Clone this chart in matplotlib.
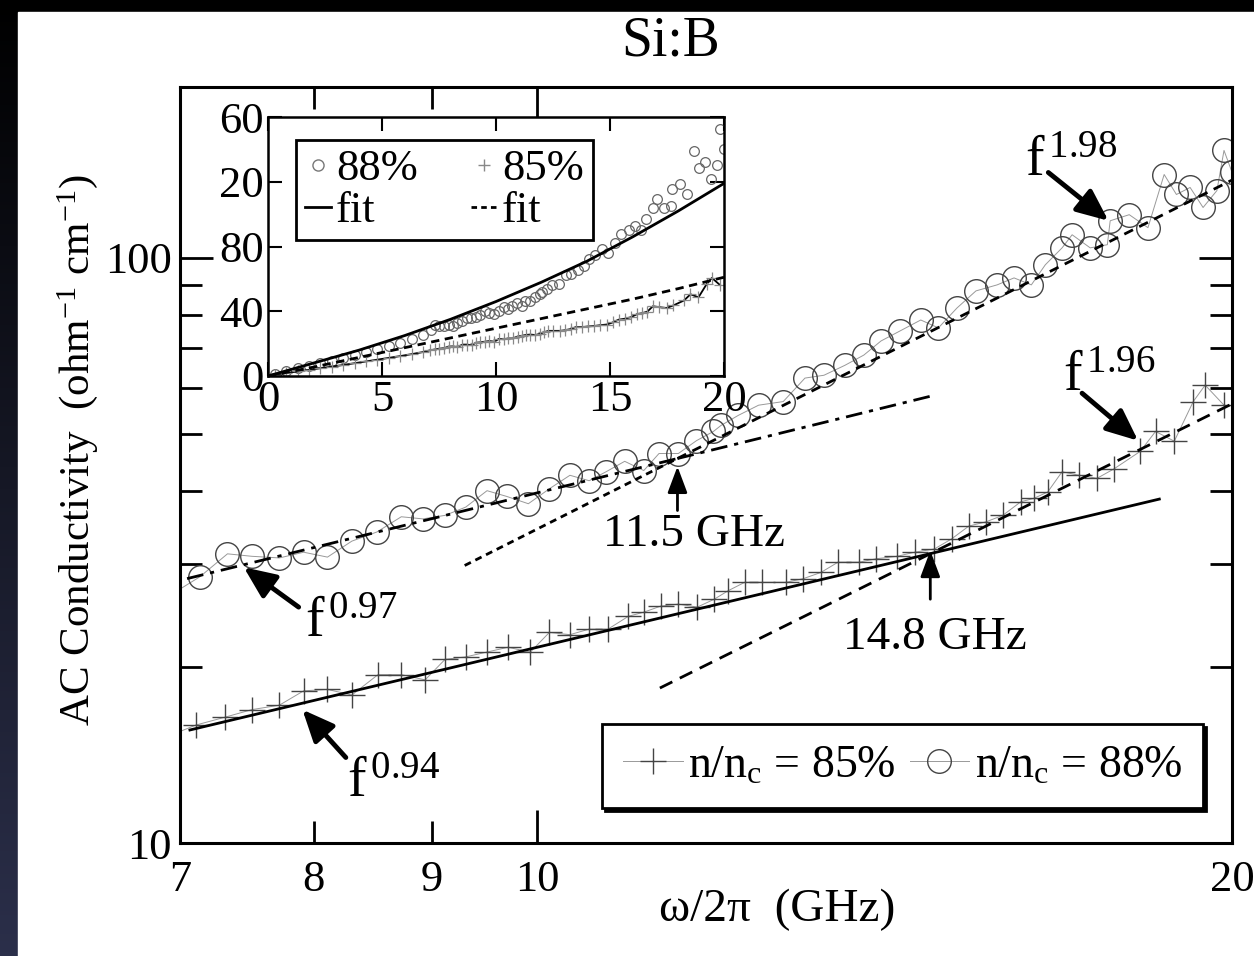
import numpy as np
import matplotlib
matplotlib.use("Agg")
import matplotlib.pyplot as plt
from matplotlib.patches import Rectangle
from matplotlib.lines import Line2D
from matplotlib.colors import LinearSegmentedColormap
from matplotlib.ticker import FixedLocator, FixedFormatter, NullFormatter

plt.rcParams['font.family'] = ['Liberation Serif', 'DejaVu Serif']
plt.rcParams['mathtext.fontset'] = 'custom'
plt.rcParams['mathtext.rm'] = 'Liberation Serif'
plt.rcParams['mathtext.it'] = 'Liberation Serif:italic'

# n/nc = 88 %  (GHz, ohm^-1 cm^-1)
freq_88 = [7.14, 7.34, 7.52, 7.73, 7.92, 8.11, 8.31, 8.52, 8.73, 8.92,
           9.12, 9.31, 9.51, 9.70, 9.91, 10.12, 10.33, 10.53, 10.71, 10.91,
           11.12, 11.29, 11.51, 11.72, 11.92, 12.01, 12.22, 12.47, 12.78, 13.06,
           13.31, 13.59, 13.85, 14.09, 14.36, 14.66, 14.92, 15.20, 15.49, 15.82,
           16.09, 16.37, 16.60, 16.88, 17.05, 17.36, 17.66, 17.71, 18.05, 18.39,
           18.69, 18.92, 19.18, 19.43, 19.70, 19.84, 20.0]
sigma_88 = [28.5, 31.2, 30.9, 30.7, 31.4, 30.8, 32.8, 34.0, 36.1, 35.8,
            36.3, 37.5, 40.0, 39.1, 38.0, 40.3, 42.5, 41.6, 43.1, 44.9,
            43.3, 46.3, 46.3, 48.7, 50.5, 51.7, 53.8, 56.0, 56.8, 62.3,
            63.0, 65.5, 68.2, 72.1, 75.0, 78.3, 75.9, 82.1, 87.8, 89.9,
            92.4, 89.9, 97.3, 104.0, 109.5, 104.0, 105.3, 115.7, 118.5, 112.6,
            138.8, 128.3, 131.9, 121.9, 130.3, 152.6, 140.0]

# n/nc = 85 %
freq_85 = [7.11, 7.32, 7.52, 7.73, 7.92, 8.11, 8.31, 8.53, 8.73, 8.94,
           9.12, 9.31, 9.51, 9.71, 9.93, 10.12, 10.33, 10.53, 10.73, 10.95,
           11.12, 11.31, 11.51, 11.73, 11.93, 12.10, 12.30, 12.51, 12.82, 13.04,
           13.27, 13.50, 13.79, 14.02, 14.32, 14.57, 14.86, 15.12, 15.38, 15.65,
           15.91, 16.20, 16.41, 16.64, 16.88, 17.17, 17.48, 17.78, 18.25, 18.53,
           18.88, 19.24, 19.47, 19.84]
sigma_85 = [15.9, 16.4, 16.9, 17.2, 18.2, 18.3, 17.9, 19.4, 19.4, 19.0,
            20.6, 20.8, 21.2, 21.6, 21.2, 22.9, 22.7, 23.2, 23.2, 24.4,
            24.8, 25.4, 25.6, 25.3, 26.1, 27.0, 27.9, 27.9, 27.9, 28.3,
            29.0, 30.2, 30.2, 30.6, 30.9, 31.4, 31.8, 33.1, 34.8, 35.4,
            36.3, 38.3, 38.8, 39.8, 43.1, 42.5, 42.0, 43.6, 46.7, 50.5,
            48.6, 56.8, 60.6, 56.0]

# low frequency part, only seen in the inset
freq_lo = [0.3, 0.8, 1.3, 1.8, 2.3, 2.8, 3.3, 3.8, 4.3, 4.8, 5.3, 5.8, 6.3, 6.8]
sigma_88_lo = [1.5, 3.1, 4.7, 6.3, 7.9, 9.5, 11.1, 12.8, 14.6, 16.5, 18.5, 20.6, 22.8, 25.3]
sigma_85_lo = [0.8, 1.8, 2.8, 3.8, 4.8, 5.8, 6.8, 7.9, 9.0, 10.1, 11.2, 12.3, 13.5, 14.8]

# power law fits (end points)
fit88_low_f, fit88_low_s = [7.05, 11.5], [28.3, 45.4]      # f^0.97
fit88_ext_f, fit88_ext_s = [11.5, 14.8], [45.4, 58.0]
fit88_high_f, fit88_high_s = [11.5, 20.0], [45.4, 135.8]   # f^1.98
fit88_hext_f, fit88_hext_s = [9.3, 11.5], [29.8, 45.4]
fit85_low_f, fit85_low_s = [7.07, 18.6], [15.6, 38.7]      # f^0.94
fit85_high_f, fit85_high_s = [11.3, 20.0], [18.4, 56.3]    # f^1.96

# inset fits
inset_fit_f = [0, 2, 4, 6, 8, 10, 12, 14, 16, 18, 20]
inset_fit_88 = [0, 8, 16, 25, 35, 46, 58, 71, 86, 102, 119]
inset_fit_85 = [0, 5.5, 11.5, 17.5, 23.5, 29.5, 35.5, 41.5, 47.5, 54, 61]

fig = plt.figure(figsize=(12.54, 9.56), dpi=100)

# slide background: dark edge, white page
bg = fig.add_axes([0, 0, 1, 1], zorder=-10)
bg.set_axis_off()
grad = np.linspace(0, 1, 256)[:, None]
bg.imshow(grad, cmap=LinearSegmentedColormap.from_list('edge', ['#000000', '#2b2f4a']),
          aspect='auto', extent=[0, 1, 0, 1])
bg.add_patch(Rectangle((18 / 1254, 0), 1, 1 - 12 / 956, color='white'))
bg.set_xlim(0, 1)
bg.set_ylim(0, 1)

ax = fig.add_axes([0.1435, 0.1182, 0.839, 0.791])
ax.set_xscale('log')
ax.set_yscale('log')

l85, = ax.plot(freq_lo + freq_85, sigma_85_lo + sigma_85, color='#999999', lw=0.7,
               marker='+', ms=19, mew=1.0, mec='#444444')
l88, = ax.plot(freq_lo + freq_88, sigma_88_lo + sigma_88, color='#999999', lw=0.7,
               marker='o', ms=17, mfc='none', mec='#444444', mew=1.0)

ax.plot(fit88_low_f, fit88_low_s, color='k', lw=2, dashes=(6, 2.5, 1.5, 2.5))
ax.plot(fit88_ext_f, fit88_ext_s, color='k', lw=2, dashes=(6, 2.5, 1.5, 2.5))
ax.plot(fit88_high_f, fit88_high_s, color='k', lw=2, dashes=(3.5, 2.5))
ax.plot(fit88_hext_f, fit88_hext_s, color='k', lw=2, dashes=(2.5, 1.8))
ax.plot(fit85_low_f, fit85_low_s, color='k', lw=2)
ax.plot(fit85_high_f, fit85_high_s, color='k', lw=2, dashes=(5, 3))

ax.set_xlim(7, 20)
ax.set_ylim(10, 196)

ax.xaxis.set_major_locator(FixedLocator([10, 20]))
ax.xaxis.set_major_formatter(FixedFormatter(['10', '20']))
ax.xaxis.set_minor_locator(FixedLocator([7, 8, 9]))
ax.xaxis.set_minor_formatter(FixedFormatter(['7', '8', '9']))
ax.yaxis.set_major_locator(FixedLocator([10, 100]))
ax.yaxis.set_major_formatter(FixedFormatter(['10', '100']))
ax.yaxis.set_minor_locator(FixedLocator([20, 30, 40, 50, 60, 70, 80, 90]))
ax.yaxis.set_minor_formatter(NullFormatter())
ax.tick_params(which='both', direction='in', top=True, right=True, labelsize=32, width=2)
ax.tick_params(which='major', length=24)
ax.tick_params(which='minor', length=16)
ax.tick_params(axis='x', which='both', pad=12)
ax.tick_params(axis='y', which='both', pad=6)
for s in ax.spines.values():
    s.set_linewidth(2.2)

ax.set_xlabel('ω/2π  (GHz)', fontsize=34)
ax.xaxis.set_label_coords(0.568, -0.06)
ax.set_ylabel('AC Conductivity  (ohm$^{-1}$ cm$^{-1}$)', fontsize=31)
ax.yaxis.set_label_coords(-0.076, 0.52)

fig.text(671 / 1254, 1 - 42 / 956, 'Si:B', ha='center', va='center', fontsize=40)

big = dict(arrowstyle='-|>,head_length=0.8,head_width=0.35', lw=3.5, color='k',
           shrinkA=0, shrinkB=0, mutation_scale=24)
small = dict(arrowstyle='-|>,head_length=0.8,head_width=0.3', lw=2, color='k',
             shrinkA=0, shrinkB=0, mutation_scale=20)

ax.annotate('', xy=(7.46, 29.6), xytext=(7.88, 25.3), arrowprops=big)
ax.text(7.93, 22.5, 'f$^{\\,\\mathrm{0.97}}$', fontsize=40, ha='left', va='baseline')
ax.annotate('', xy=(7.91, 16.9), xytext=(8.26, 14.0), arrowprops=big)
ax.text(8.27, 12.0, 'f$^{\\,\\mathrm{0.94}}$', fontsize=40, ha='left', va='baseline')
ax.annotate('', xy=(17.68, 115.7), xytext=(16.65, 139.9), arrowprops=big)
ax.text(16.27, 138.2, 'f$^{\\,\\mathrm{1.98}}$', fontsize=40, ha='left', va='baseline')
ax.annotate('', xy=(18.21, 48.7), xytext=(17.22, 58.7), arrowprops=big)
ax.text(16.9, 59.2, 'f$^{\\,\\mathrm{1.96}}$', fontsize=40, ha='left', va='baseline')

ax.annotate('', xy=(11.5, 44.0), xytext=(11.5, 37.0), arrowprops=small)
ax.text(11.69, 36.5, '11.5 GHz', fontsize=34, ha='center', va='top')
ax.annotate('', xy=(14.8, 31.6), xytext=(14.8, 26.1), arrowprops=small)
ax.text(14.87, 24.4, '14.8 GHz', fontsize=34, ha='center', va='top')

leg = ax.legend([l85, l88], ['n/n$_{\\mathrm{c}}$ = 85%', 'n/n$_{\\mathrm{c}}$ = 88%'],
                ncol=2, loc='lower right', bbox_to_anchor=(0.9724, 0.0464), borderaxespad=0,
                fontsize=33, handlelength=1.3, handletextpad=0.12, columnspacing=0.3,
                borderpad=0.45, fancybox=False, edgecolor='k', framealpha=1,
                shadow={'color': 'k', 'alpha': 1})
leg.get_frame().set_linewidth(2)

# inset, linear scale
axin = fig.add_axes([268 / 1254, 0.6067, 456 / 1254, 0.2709])
axin.plot(freq_lo + freq_88, sigma_88_lo + sigma_88, ls='none', marker='o', ms=7,
          mfc='none', mec='#666666', mew=0.9)
axin.plot(freq_lo + freq_85, sigma_85_lo + sigma_85, color='k', lw=1.3, marker='+', ms=8,
          mec='#888888', mew=0.9)
axin.plot(inset_fit_f, inset_fit_88, color='k', lw=2)
axin.plot(inset_fit_f, inset_fit_85, color='k', lw=2, dashes=(3, 2))
axin.set_xlim(0, 20)
axin.set_ylim(0, 160)
axin.set_xticks([0, 5, 10, 15, 20])
axin.set_yticks([0, 40, 80, 120, 160])
axin.set_yticklabels(['0', '40', '80', '20', '60'])
axin.tick_params(direction='in', top=True, right=True, length=10, width=1.5, labelsize=32, pad=3)
for s in axin.spines.values():
    s.set_linewidth(1.8)

h = [Line2D([], [], ls='none', marker='o', ms=8, mfc='none', mec='#777777'),
     Line2D([], [], color='k', lw=2),
     Line2D([], [], ls='none', marker='+', ms=9, mec='#888888'),
     Line2D([], [], color='k', lw=2, dashes=(2, 1.5))]
lin = axin.legend(h, ['88%', 'fit', '85%', 'fit'], ncol=2, loc='upper left',
                  bbox_to_anchor=(0.061, 0.911), borderaxespad=0, fontsize=32,
                  handlelength=0.6, handletextpad=0.1, columnspacing=1.2, labelspacing=0.05,
                  borderpad=0.2, fancybox=False, edgecolor='k', framealpha=1)
lin.get_frame().set_linewidth(2)

fig.savefig('out.png', dpi=100, facecolor='black')
